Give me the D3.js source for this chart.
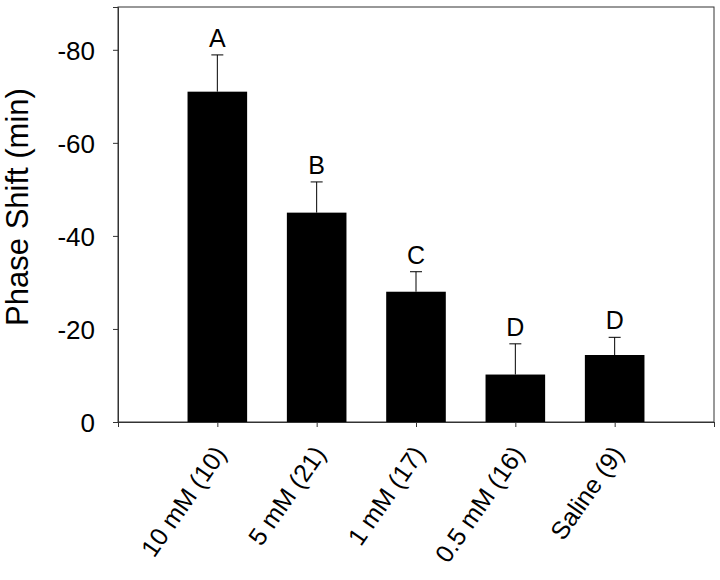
<!DOCTYPE html>
<meta charset="utf-8">
<style>
body { margin: 0; background: #fff; }
text { font-family: Arial, "Liberation Sans", Helvetica, sans-serif; fill: #000; }
</style>
<body>
<svg width="720" height="580"></svg>
<script src="https://d3js.org/d3.v7.min.js"></script>
<script>
// data
var groups  = ["10 mM (10)", "5 mM (21)", "1 mM (17)", "0.5 mM (16)", "Saline (9)"];
var shifts  = [-71.0, -45.0, -28.0, -10.2, -14.4];
var errors  = [7.9, 6.6, 4.3, 6.6, 3.8];
var letters = ["A", "B", "C", "D", "D"];
var yTicks  = [0, -20, -40, -60, -80];

var margin = {top: 7, right: 6, bottom: 158, left: 118},
    width = 720 - margin.left - margin.right,
    height = 580 - margin.top - margin.bottom;

var svg = d3.select("svg")
  .append("g")
    .attr("transform", "translate(" + margin.left + "," + margin.top + ")");

// categories sit on ticks 1..5 of a 0..6 axis
var x = d3.scaleLinear()
  .domain([0, groups.length + 1])
  .range([0, width]);

var y = d3.scaleLinear()
  .domain([0, -89.2])
  .range([height, 0]);

var barW = (x(1) - x(0)) * 0.6;

// frame
svg.append("rect")
  .attr("width", width)
  .attr("height", height)
  .attr("fill", "none")
  .attr("stroke", "#333")
  .attr("stroke-width", 1);

// bars
svg.selectAll(".bar")
  .data(shifts)
  .enter()
  .append("rect")
    .attr("class", "bar")
    .attr("x", (d, i) => x(i + 1) - barW / 2)
    .attr("width", barW)
    .attr("y", d => y(d))
    .attr("height", d => y(0) - y(d))
    .attr("fill", "#000");

// error bars (upward only)
var err = svg.selectAll(".err")
  .data(shifts)
  .enter()
  .append("g")
    .attr("class", "err")
    .attr("stroke", "#000")
    .attr("stroke-width", 1);

err.append("line")
  .attr("x1", (d, i) => x(i + 1))
  .attr("x2", (d, i) => x(i + 1))
  .attr("y1", d => y(d))
  .attr("y2", (d, i) => y(d - errors[i]));

err.append("line")
  .attr("x1", (d, i) => x(i + 1) - 6)
  .attr("x2", (d, i) => x(i + 1) + 6)
  .attr("y1", (d, i) => y(d - errors[i]))
  .attr("y2", (d, i) => y(d - errors[i]));

// significance letters
svg.selectAll(".letter")
  .data(letters)
  .enter()
  .append("text")
    .attr("class", "letter")
    .attr("x", (d, i) => x(i + 1))
    .attr("y", (d, i) => y(shifts[i] - errors[i]) - 8)
    .attr("text-anchor", "middle")
    .style("font-size", "25px")
    .text(d => d);

// Y axis (plain hyphen as in the original)
var yAxis = svg.append("g")
  .call(d3.axisLeft(y).tickValues(yTicks).tickSize(5).tickPadding(18).tickFormat(d => "" + d));
yAxis.select(".domain").attr("stroke", "#333");
yAxis.selectAll(".tick line").attr("stroke", "#333");
yAxis.selectAll("text").style("font-size", "26px").attr("dy", "0.36em");

// X axis
var xAxis = svg.append("g")
  .attr("transform", "translate(0," + height + ")")
  .call(d3.axisBottom(x).tickValues(d3.range(0, groups.length + 2)).tickSize(5).tickFormat(""));
xAxis.select(".domain").attr("stroke", "#333");
xAxis.selectAll(".tick line").attr("stroke", "#333");

xAxis.selectAll(".lab")
  .data(groups)
  .enter()
  .append("text")
    .attr("class", "lab")
    .attr("transform", (d, i) => "translate(" + (x(i + 1) + 10) + ",32) rotate(-55)")
    .attr("text-anchor", "end")
    .style("font-size", "25px")
    .text(d => d);

// Y label
svg.append("text")
  .attr("transform", "translate(-90," + 200 + ") rotate(-90)")
  .attr("text-anchor", "middle")
  .style("font-size", "31px")
  .text("Phase Shift (min)");
</script>
</body>
